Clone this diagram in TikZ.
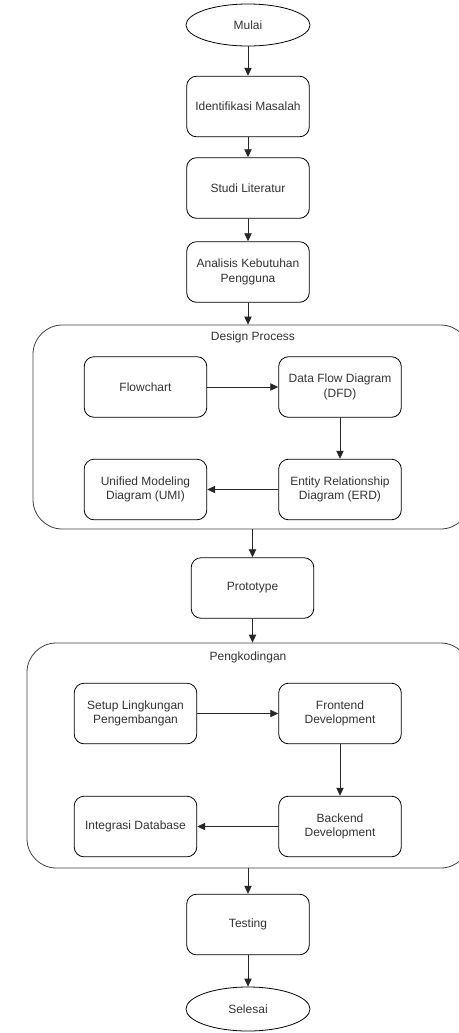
\documentclass[tikz,border=0pt]{standalone}
\usepackage{fontspec}
\setmainfont{Liberation Sans}
\usetikzlibrary{shapes.geometric,arrows.meta}

\begin{document}
\begin{tikzpicture}[x=0.75pt, y=-0.75pt, line cap=round,
    every node/.style={font=\fontsize{9}{11}\selectfont, text=black!80, align=center},
    proc/.style={draw, line width=0.6pt, rounded corners=7.5pt, minimum width=92pt, minimum height=45.5pt, inner sep=1pt},
    term/.style={draw, line width=0.6pt, ellipse, minimum width=93pt, minimum height=31.5pt, inner sep=1pt},
    group/.style={draw, line width=0.6pt, black!75, rounded corners=22pt},
    flow/.style={-{Triangle[length=6pt,width=5.5pt]}, line width=0.6pt, black!85}]
  \useasboundingbox (0,0) rectangle (458,1033);

  % alur utama
  \node[term] (mulai) at (248,25) {Mulai};
  \node[proc] (ident) at (248,106.5) {Identifikasi Masalah};
  \node[proc] (studi) at (248,188) {Studi Literatur};
  \node[proc] (analisis) at (248,272) {Analisis Kebutuhan\\Pengguna};

  % design process
  \node[group, minimum width=327.75pt, minimum height=153pt] (design) at (251.5,427) {};
  \node (designlbl) at (253,337) {Design Process};
  \node[proc] (flowchart) at (145.5,387) {Flowchart};
  \node[proc] (dfd) at (340,387) {Data Flow Diagram\\(DFD)};
  \node[proc] (umi) at (145.5,489.5) {Unified Modeling\\Diagram (UMI)};
  \node[proc] (erd) at (340,489.5) {Entity Relationship\\Diagram (ERD)};

  \node[proc] (proto) at (252.5,588) {Prototype};

  % pengkodingan
  \node[group, minimum width=332.25pt, minimum height=168.75pt] (coding) at (248.5,755.5) {};
  \node (codinglbl) at (248,657) {Pengkodingan};
  \node[proc] (setup) at (135.5,713.5) {Setup Lingkungan\\Pengembangan};
  \node[proc] (front) at (340,713.5) {Frontend\\Development};
  \node[proc] (integ) at (135.5,826.5) {Integrasi Database};
  \node[proc] (back) at (340,826.5) {Backend\\Development};

  \node[proc] (testing) at (248,924.5) {Testing};
  \node[term, minimum height=33pt] (selesai) at (248,1009) {Selesai};

  \draw[flow] (mulai) -- (ident);
  \draw[flow] (ident) -- (studi);
  \draw[flow] (studi) -- (analisis);
  \draw[flow] (analisis.south) -- (analisis.south |- design.north);
  \draw[flow] (flowchart) -- (dfd);
  \draw[flow] (dfd) -- (erd);
  \draw[flow] (erd) -- (umi);
  \draw[flow] (proto.north |- design.south) -- (proto.north);
  \draw[flow] (proto.south) -- (proto.south |- coding.north);
  \draw[flow] (setup) -- (front);
  \draw[flow] (front) -- (back);
  \draw[flow] (back) -- (integ);
  \draw[flow] (testing.north |- coding.south) -- (testing.north);
  \draw[flow] (testing) -- (selesai);
\end{tikzpicture}
\end{document}
